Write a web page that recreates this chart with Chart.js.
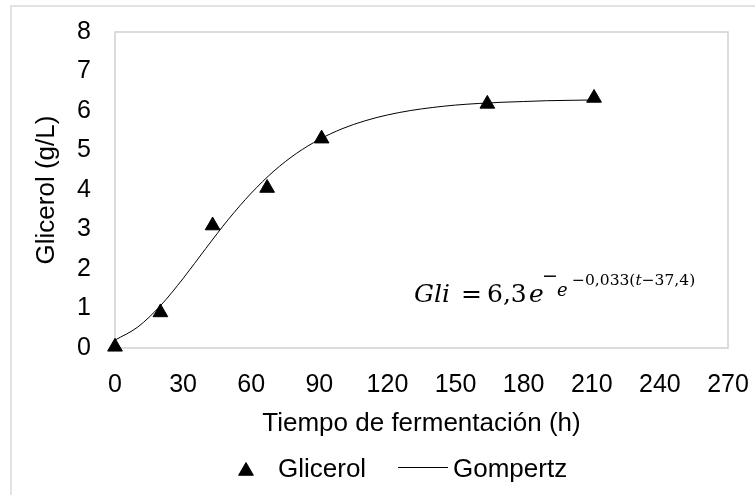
<!DOCTYPE html>
<html>
<head>
<meta charset="utf-8">
<script src="https://cdn.jsdelivr.net/npm/chart.js@4.4.1/dist/chart.umd.min.js"></script>
<style>
  html, body { margin: 0; padding: 0; background: #fff; }
  #wrap { width: 755px; height: 495px; }
</style>
</head>
<body>
<div id="wrap"><canvas id="glicerolChart" width="755" height="495"></canvas></div>
<script>
// measured glycerol (g/L) vs fermentation time (h)
const sampleTimes = [0, 20, 43, 67, 91, 164, 211];
const glicerolValues = [0.03, 0.9, 3.1, 4.05, 5.3, 6.18, 6.33];

// Gompertz fit
const curveTimes = [0, 10, 20, 30, 40, 50, 60, 70, 80, 90, 100, 110, 120, 130, 140, 150, 160, 170, 180, 190, 200, 211];
const gompertzValues = [0.2, 0.53, 1.07, 1.76, 2.52, 3.26, 3.92, 4.48, 4.93, 5.28, 5.55, 5.75, 5.9, 6.01, 6.09, 6.15, 6.19, 6.22, 6.24, 6.26, 6.27, 6.28];

const xTicks = [0, 30, 60, 90, 120, 150, 180, 210, 240, 270];
const yTicks = [0, 1, 2, 3, 4, 5, 6, 7, 8];

const FONT = "'Liberation Sans', Arial, sans-serif";
const MATH = "'DejaVu Serif', 'Liberation Serif', serif";

// frame of the chart + plot area border, legend and the equation
const decorations = {
    id: 'decorations',
    beforeDraw(chart) {
        const c = chart.ctx;
        c.save();
        c.strokeStyle = '#d9d9d9';
        c.lineWidth = 1.5;
        c.strokeRect(11, 6, 800, 600);
        c.restore();
    },
    beforeDatasetsDraw(chart) {
        const c = chart.ctx, a = chart.chartArea;
        c.save();
        c.strokeStyle = '#d0d0d0';
        c.lineWidth = 1.5;
        c.strokeRect(a.left, a.top, a.right - a.left, a.bottom - a.top);
        c.restore();
    },
    afterDraw(chart) {
        const c = chart.ctx;
        c.save();
        c.fillStyle = '#000';
        c.strokeStyle = '#000';

        // legend
        Chart.helpers.drawPoint(c, { pointStyle: 'triangle', radius: 8.5, borderWidth: 1 }, 246, 471);
        c.font = '26px ' + FONT;
        c.textBaseline = 'alphabetic';
        c.fillText('Glicerol', 278, 477);
        c.lineWidth = 1;
        c.beginPath();
        c.moveTo(398, 467.5);
        c.lineTo(448, 467.5);
        c.stroke();
        c.fillText('Gompertz', 453, 477);

        // equation
        c.font = 'italic 25px ' + MATH;
        c.fillText('Gli', 414, 302);
        c.font = '25px ' + MATH;
        c.fillText('=', 461, 302);
        c.fillText('6,3', 487, 302);
        c.font = 'italic 25px ' + MATH;
        c.fillText('e', 529, 302);
        c.font = '19px ' + MATH;
        c.fillText('\u2212', 542, 282);
        c.font = 'italic 18px ' + MATH;
        c.fillText('e', 557, 296);
        let x = 572;
        const parts = [['\u22120,033(', ''], ['t', 'italic '], ['\u221237,4)', '']];
        parts.forEach(([txt, st]) => {
            c.font = st + '15.5px ' + MATH;
            c.fillText(txt, x, 285);
            x += c.measureText(txt).width;
        });
        c.restore();
    }
};

const ctx = document.getElementById('glicerolChart').getContext('2d');

new Chart(ctx, {
    type: 'scatter',
    data: {
        datasets: [
            {
                label: 'Glicerol',
                data: sampleTimes.map((t, i) => ({ x: t, y: glicerolValues[i] })),
                pointStyle: 'triangle',
                pointRadius: 8.5,
                backgroundColor: '#000',
                borderColor: '#000',
                borderWidth: 1,
                showLine: false,
                clip: false,
                order: 0
            },
            {
                label: 'Gompertz',
                data: curveTimes.map((t, i) => ({ x: t, y: gompertzValues[i] })),
                showLine: true,
                borderColor: '#000',
                borderWidth: 1,
                pointRadius: 0,
                cubicInterpolationMode: 'monotone',
                clip: false,
                order: 1
            }
        ]
    },
    options: {
        responsive: false,
        animation: false,
        devicePixelRatio: 1,
        layout: { padding: { left: 0, right: 27, top: 32, bottom: 52 } },
        plugins: {
            legend: { display: false },
            tooltip: { enabled: false }
        },
        scales: {
            x: {
                type: 'linear',
                min: 0,
                max: 270,
                afterBuildTicks: (s) => { s.ticks = xTicks.map(v => ({ value: v })); },
                afterFit: (s) => { s.height = 95; s.paddingLeft = 0; s.paddingRight = 0; },
                grid: { display: false, drawTicks: false },
                border: { display: false },
                ticks: { color: '#000', font: { family: FONT, size: 25 }, padding: 22, maxRotation: 0 },
                title: {
                    display: true,
                    text: 'Tiempo de fermentación (h)',
                    color: '#000',
                    font: { family: FONT, size: 26 },
                    padding: { top: 0, bottom: 4 }
                }
            },
            y: {
                min: 0,
                max: 8,
                afterBuildTicks: (s) => { s.ticks = yTicks.map(v => ({ value: v })); },
                afterFit: (s) => { s.width = 115; s.paddingTop = 0; s.paddingBottom = 0; },
                grid: { display: false, drawTicks: false },
                border: { display: false },
                ticks: { color: '#000', font: { family: FONT, size: 25 }, padding: 24 },
                title: {
                    display: true,
                    text: 'Glicerol (g/L)',
                    color: '#000',
                    font: { family: FONT, size: 26 },
                    padding: { top: 31, bottom: 0 }
                }
            }
        }
    },
    plugins: [decorations]
});
</script>
</body>
</html>
